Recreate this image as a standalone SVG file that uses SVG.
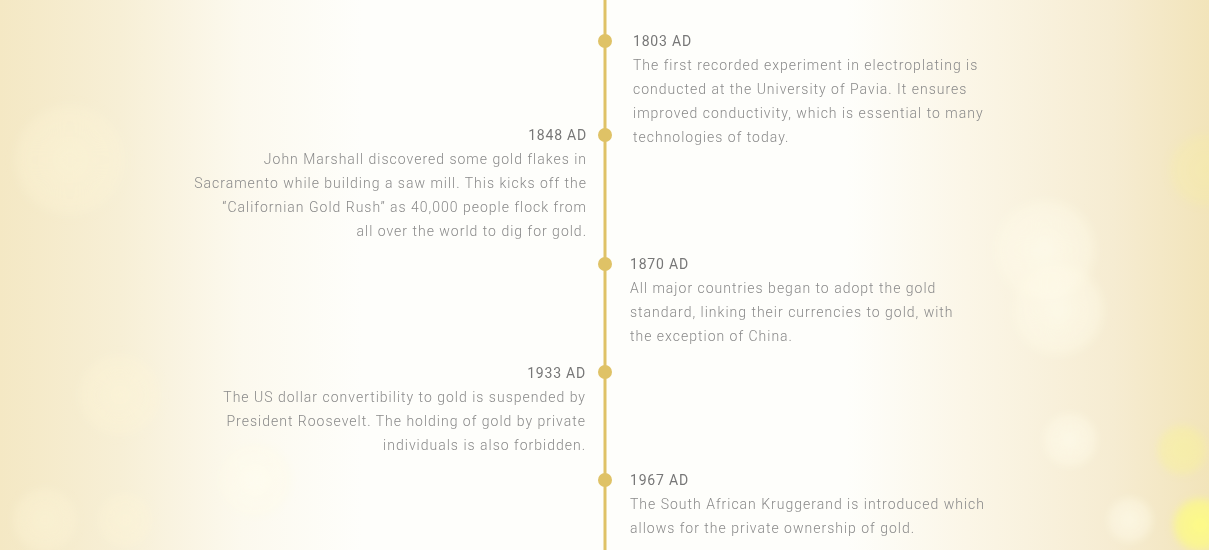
<svg xmlns="http://www.w3.org/2000/svg" width="1209" height="550" viewBox="0 0 1209 550">
<defs>
<linearGradient id="bg" x1="0" y1="0" x2="1" y2="0">
<stop offset="0" stop-color="#f4e8c4"/>
<stop offset="0.1" stop-color="#f7efd6"/>
<stop offset="0.2" stop-color="#fcf9ee"/>
<stop offset="0.3" stop-color="#fefefb"/>
<stop offset="0.7" stop-color="#fefefb"/>
<stop offset="0.8" stop-color="#fbf6e7"/>
<stop offset="0.92" stop-color="#f6ecd2"/>
<stop offset="1" stop-color="#f2e4ba"/>
</linearGradient>
<radialGradient id="bok" cx="0.5" cy="0.5" r="0.5">
<stop offset="0" stop-color="#fffdf0" stop-opacity="0.6"/>
<stop offset="0.8" stop-color="#fffbe8" stop-opacity="0.4"/>
<stop offset="1" stop-color="#fffbe8" stop-opacity="0"/>
</radialGradient>
<radialGradient id="bokY" cx="0.5" cy="0.5" r="0.5">
<stop offset="0" stop-color="#fdfa86" stop-opacity="1"/>
<stop offset="0.75" stop-color="#fbf78a" stop-opacity="0.8"/>
<stop offset="1" stop-color="#fbf78a" stop-opacity="0"/>
</radialGradient>
<radialGradient id="bokL" cx="0.5" cy="0.5" r="0.5">
<stop offset="0" stop-color="#fdf6d8" stop-opacity="0.5"/>
<stop offset="0.8" stop-color="#fdf6d8" stop-opacity="0.3"/>
<stop offset="1" stop-color="#fdf6d8" stop-opacity="0"/>
</radialGradient>
<filter id="blur" x="-20%" y="-20%" width="140%" height="140%"><feGaussianBlur stdDeviation="3"/></filter>
<style>
.t{font-family:Roboto,"Liberation Sans",sans-serif;font-size:14px;font-weight:400;fill:#777;letter-spacing:0.8px}
.b{font-family:Roboto,"Liberation Sans",sans-serif;font-size:14px;font-weight:300;fill:#8a8a8a;letter-spacing:1px}
.r{text-anchor:end}
.dot{fill:#dfc266}
</style>
</defs>
<rect width="1209" height="550" fill="url(#bg)"/>
<g id="bokeh" filter="url(#blur)">
<circle cx="70" cy="160" r="60" fill="url(#bokL)"/>
<circle cx="120" cy="395" r="45" fill="url(#bokL)"/>
<circle cx="45" cy="520" r="35" fill="url(#bokL)"/>
<circle cx="125" cy="520" r="30" fill="url(#bokL)"/>
<circle cx="255" cy="480" r="40" fill="url(#bok)"/>
<circle cx="1045" cy="250" r="55" fill="url(#bok)"/>
<circle cx="1058" cy="310" r="50" fill="url(#bok)"/>
<circle cx="1205" cy="170" r="40" fill="url(#bokY)" opacity="0.2"/>
<circle cx="1182" cy="450" r="28" fill="url(#bokY)" opacity="0.4"/>
<circle cx="1070" cy="440" r="30" fill="url(#bok)"/>
<circle cx="1130" cy="520" r="25" fill="url(#bok)"/>
<circle cx="1200" cy="525" r="30" fill="url(#bokY)"/>
</g>
<g id="connectors">
<line x1="605" y1="0" x2="605" y2="550" stroke="#dfc266" stroke-width="3"/>
</g>
<g id="n1803">
<circle class="dot" cx="605" cy="41" r="7"/>
<text class="t" x="633" y="46">1803 AD</text>
<text class="b" x="633" y="70">The first recorded experiment in electroplating is</text>
<text class="b" x="633" y="94">conducted at the University of Pavia. It ensures</text>
<text class="b" x="633" y="118">improved conductivity, which is essential to many</text>
<text class="b" x="633" y="142">technologies of today.</text>
</g>
<g id="n1848">
<circle class="dot" cx="605" cy="135" r="7"/>
<text class="t r" x="587" y="140">1848 AD</text>
<text class="b r" x="587" y="164">John Marshall discovered some gold flakes in</text>
<text class="b r" x="587" y="188">Sacramento while building a saw mill. This kicks off the</text>
<text class="b r" x="587" y="212">“Californian Gold Rush” as 40,000 people flock from</text>
<text class="b r" x="587" y="236">all over the world to dig for gold.</text>
</g>
<g id="n1870">
<circle class="dot" cx="605" cy="264" r="7"/>
<text class="t" x="630" y="269">1870 AD</text>
<text class="b" x="630" y="293">All major countries began to adopt the gold</text>
<text class="b" x="630" y="317">standard, linking their currencies to gold, with</text>
<text class="b" x="630" y="341">the exception of China.</text>
</g>
<g id="n1933">
<circle class="dot" cx="605" cy="372" r="7"/>
<text class="t r" x="586" y="378">1933 AD</text>
<text class="b r" x="586" y="402">The US dollar convertibility to gold is suspended by</text>
<text class="b r" x="586" y="426">President Roosevelt. The holding of gold by private</text>
<text class="b r" x="586" y="450">individuals is also forbidden.</text>
</g>
<g id="n1967">
<circle class="dot" cx="605" cy="480" r="7"/>
<text class="t" x="630" y="485">1967 AD</text>
<text class="b" x="630" y="509">The South African Kruggerand is introduced which</text>
<text class="b" x="630" y="533">allows for the private ownership of gold.</text>
</g>
</svg>
